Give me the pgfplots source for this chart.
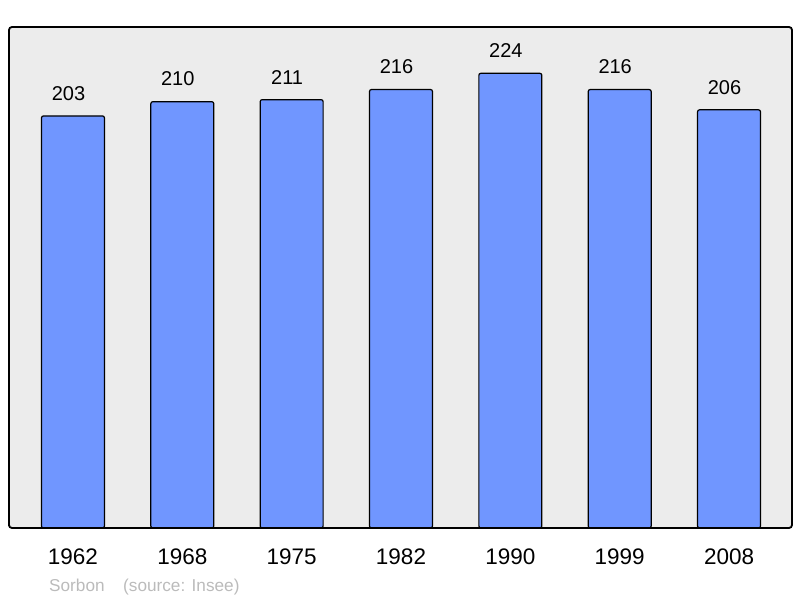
\documentclass[border=0pt]{standalone}
\usepackage{pgfplots}
\pgfplotsset{compat=1.18}
\usepackage{fontspec}
\setmainfont{Liberation Sans}
\definecolor{barblue}{RGB}{112,150,255}
\definecolor{bgc}{RGB}{236,236,236}
\definecolor{srcgray}{RGB}{187,187,187}
\begin{document}
\begin{tikzpicture}
\begin{axis}[
  scale only axis, width=783pt, height=501pt,
  xmin=-0.585, xmax=6.576, ymin=0, ymax=246.8,
  axis background/.style={fill=bgc},
  axis line style={line width=1.8pt, rounded corners=3pt},
  ytick=\empty,
  xtick={0,1,2,3,4,5,6},
  xticklabels={1962,1968,1975,1982,1990,1999,2008},
  major tick length=0pt,
  xticklabel style={font=\fontsize{22.5}{24}\selectfont, inner sep=0pt, yshift=-21pt},
  ybar, bar width=0.576,
  nodes near coords,
  nodes near coords style={font=\fontsize{20}{22}\selectfont, anchor=south, inner sep=0pt, yshift=15pt, xshift=-4.5pt},
  /pgf/number format/assume math mode=true,
  axis on top,
  clip=false,
]
\addplot[fill=barblue, draw=black, line width=1.2pt, rounded corners=2pt] coordinates {(0,203)(1,210)(2,211)(3,216)(4,224)(5,216)(6,206)};
\end{axis}
\node[anchor=base west, text=srcgray, font=\fontsize{17.2}{19}\selectfont, inner sep=0pt] at (40pt,-63pt) {Sorbon};
\node[anchor=base west, text=srcgray, font=\fontsize{17.2}{19}\selectfont, inner sep=0pt] at (114pt,-63pt) {(source: Insee)};
\pgfresetboundingbox
\path[use as bounding box] (-9pt,-70pt) rectangle (791pt,528pt);
\end{tikzpicture}
\end{document}
